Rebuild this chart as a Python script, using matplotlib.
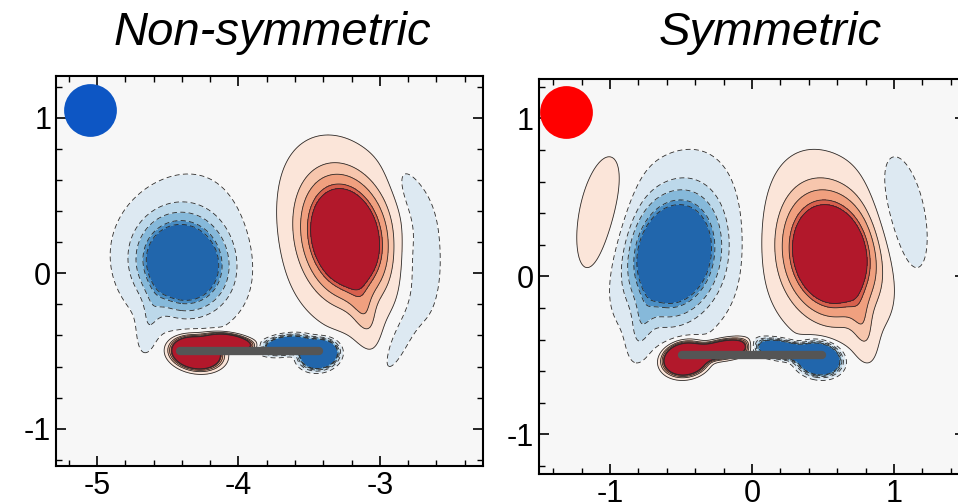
import numpy as np
import matplotlib.pyplot as plt

plt.rcParams['font.family'] = ['Liberation Sans', 'DejaVu Sans']
plt.rcParams['axes.unicode_minus'] = False

# vortex blobs: x, y, sx, sy, angle (deg), amplitude, exponent
# (core, halo, tail for each main vortex; wake patches; plate vortices)
ns_x = [-4.40, -4.32, -4.64, -3.23, -3.38, -3.10, -2.70, -2.79, -2.86, -4.30, -4.06, -3.43, -3.66]
ns_y = [0.05, 0.28, -0.36, 0.22, 0.34, -0.30, 0.08, 0.52, -0.42, -0.51, -0.44, -0.52, -0.46]
ns_sx = [0.34, 0.45, 0.08, 0.30, 0.42, 0.09, 0.14, 0.09, 0.08, 0.17, 0.17, 0.13, 0.17]
ns_sy = [0.30, 0.48, 0.20, 0.40, 0.60, 0.20, 0.40, 0.22, 0.28, 0.10, 0.05, 0.09, 0.06]
ns_ang = [-25, -25, -10, 15, 15, 15, 0, 25, -25, -8, -10, 8, 8]
ns_amp = [-1.5, -0.3, -0.3, 1.5, 0.3, 0.3, -0.5, -0.36, -0.38, 3.0, 2.0, -3.0, -2.0]
ns_p = [1, 1, 1, 1, 1, 1, 1, 1, 1, 1.5, 1.5, 1.5, 1.5]

sy_x = [-0.56, -0.46, -0.79, 0.56, 0.46, 0.79, -1.06, 1.06, -0.47, -0.20, 0.47, 0.20]
sy_y = [0.12, 0.32, -0.36, 0.12, 0.32, -0.36, 0.37, 0.37, -0.52, -0.46, -0.52, -0.46]
sy_sx = [0.34, 0.38, 0.08, 0.34, 0.38, 0.08, 0.17, 0.17, 0.15, 0.20, 0.15, 0.20]
sy_sy = [0.40, 0.55, 0.20, 0.40, 0.55, 0.20, 0.42, 0.42, 0.10, 0.06, 0.10, 0.06]
sy_ang = [-18, -18, -10, 18, 18, 10, -12, 12, 8, 8, -8, -8]
sy_amp = [-1.5, -0.3, -0.3, 1.5, 0.3, 0.3, 0.55, -0.55, 3.0, 2.0, -3.0, -2.0]
sy_p = [1, 1, 1, 1, 1, 1, 1, 1, 1.5, 1.5, 1.5, 1.5]

levels = [-1.0, -0.9, -0.7, -0.5, -0.2, 0.2, 0.5, 0.7, 0.9, 1.0]
fill_colors = ['#2166ac', '#4a8ec4', '#86b9da', '#bcd8ea', '#dde9f2', '#f7f7f7',
               '#fbe5d9', '#f7c6ad', '#f0a07f', '#d7604d', '#b2182b']

ns_plate = [-4.41, -3.43]
sy_plate = [-0.49, 0.49]
plate_y = -0.5

ns_dot = (-5.05, 1.05)
sy_dot = (-1.31, 1.04)


def field(X, Y, bx, by, bsx, bsy, bang, bamp, bp):
    F = np.zeros_like(X)
    for x0, y0, sx, sy, a, amp, p in zip(bx, by, bsx, bsy, bang, bamp, bp):
        t = np.deg2rad(a)
        u = (X - x0) * np.cos(t) + (Y - y0) * np.sin(t)
        v = -(X - x0) * np.sin(t) + (Y - y0) * np.cos(t)
        F += amp * np.exp(-((u / sx) ** 2 + (v / sy) ** 2) ** p)
    return F


def panel(ax, xlim, ylim, F, X, Y, plate, dot, dot_color):
    bounds = [-100] + levels + [100]
    styles = [(0, (6, 4)) if lv < 0 else 'solid' for lv in levels]
    ax.set_facecolor('#f7f7f7')
    ax.contourf(X, Y, F, levels=bounds, colors=fill_colors)
    ax.contour(X, Y, F, levels=levels, colors='#2a2a2a', linewidths=0.6, linestyles=styles)
    ax.plot(plate, [plate_y, plate_y], color='#555555', lw=6, solid_capstyle='round')
    ax.plot(*dot, 'o', ms=38, color=dot_color, mec='none')
    ax.set_xlim(xlim)
    ax.set_ylim(ylim)
    ax.set_xticks(np.arange(np.ceil(xlim[0]), xlim[1] + 0.01, 1))
    ax.set_yticks([-1, 0, 1])
    ax.xaxis.set_minor_locator(plt.MultipleLocator(0.2))
    ax.yaxis.set_minor_locator(plt.MultipleLocator(0.2))
    ax.tick_params(which='both', direction='in', top=True, right=True, labelsize=22)
    ax.tick_params(which='major', length=7, width=1.2)
    ax.tick_params(which='minor', length=4, width=1.0)
    for s in ax.spines.values():
        s.set_linewidth(1.5)


fig = plt.figure(figsize=(9.58, 5.04), dpi=100)
ax1 = fig.add_axes([0.0585, 0.0754, 0.4457, 0.774])
ax2 = fig.add_axes([0.5626, 0.0595, 0.4447, 0.784])

xl1, yl1 = (-5.29, -2.27), (-1.24, 1.27)
X, Y = np.meshgrid(np.linspace(*xl1, 500), np.linspace(*yl1, 500))
F1 = field(X, Y, ns_x, ns_y, ns_sx, ns_sy, ns_ang, ns_amp, ns_p)
panel(ax1, xl1, yl1, F1, X, Y, ns_plate, ns_dot, '#0d56c4')

xl2, yl2 = (-1.5, 1.5), (-1.25, 1.25)
X, Y = np.meshgrid(np.linspace(*xl2, 500), np.linspace(*yl2, 500))
F2 = field(X, Y, sy_x, sy_y, sy_sx, sy_sy, sy_ang, sy_amp, sy_p)
panel(ax2, xl2, yl2, F2, X, Y, sy_plate, sy_dot, '#ff0000')

fig.text(272 / 958, 1 - 45 / 504, 'Non-symmetric', fontsize=34, style='italic',
         ha='center', va='baseline')
fig.text(770 / 958, 1 - 45 / 504, 'Symmetric', fontsize=34, style='italic',
         ha='center', va='baseline')

fig.savefig('out.png', dpi=100)
